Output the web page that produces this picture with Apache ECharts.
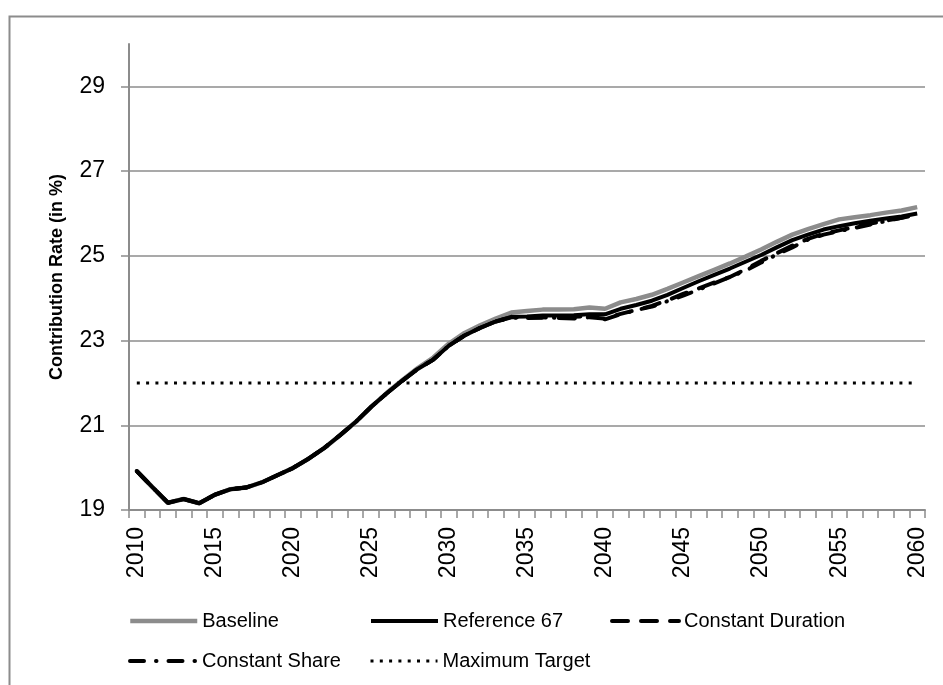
<!DOCTYPE html>
<html>
<head>
<meta charset="utf-8">
<script src="https://cdn.jsdelivr.net/npm/echarts@6/dist/echarts.min.js"></script>
<style>
html,body{margin:0;padding:0;background:#fff;}
#chart{width:943px;height:685px;}
</style>
</head>
<body>
<div id="chart"></div>
<script>
var years = ['2010','2011','2012','2013','2014','2015','2016','2017','2018','2019',
 '2020','2021','2022','2023','2024','2025','2026','2027','2028','2029',
 '2030','2031','2032','2033','2034','2035','2036','2037','2038','2039',
 '2040','2041','2042','2043','2044','2045','2046','2047','2048','2049',
 '2050','2051','2052','2053','2054','2055','2056','2057','2058','2059','2060'];

var baseline = [19.92,19.54,19.17,19.26,19.16,19.36,19.49,19.53,19.65,19.82,
 19.99,20.21,20.46,20.76,21.07,21.43,21.76,22.06,22.35,22.6,
 22.93,23.18,23.36,23.52,23.66,23.7,23.73,23.73,23.74,23.78,
 23.75,23.9,23.98,24.08,24.22,24.37,24.52,24.67,24.82,24.98,
 25.15,25.33,25.5,25.63,25.75,25.86,25.91,25.96,26.02,26.07,26.15];

var reference67 = [19.92,19.54,19.17,19.26,19.16,19.36,19.49,19.53,19.65,19.82,
 19.99,20.21,20.46,20.76,21.07,21.43,21.75,22.05,22.33,22.55,
 22.88,23.12,23.3,23.45,23.56,23.57,23.59,23.59,23.6,23.62,
 23.62,23.75,23.84,23.94,24.08,24.24,24.4,24.55,24.7,24.86,
 25.02,25.2,25.37,25.5,25.62,25.7,25.77,25.83,25.88,25.93,26.0];

var constantDuration = [19.92,19.54,19.17,19.26,19.16,19.36,19.49,19.53,19.65,19.82,
 19.99,20.21,20.46,20.76,21.07,21.43,21.75,22.05,22.33,22.55,
 22.88,23.12,23.3,23.45,23.55,23.55,23.55,23.53,23.52,23.55,
 23.52,23.63,23.72,23.82,23.95,24.1,24.23,24.37,24.5,24.68,
 24.88,25.06,25.24,25.4,25.52,25.6,25.68,25.76,25.83,25.9,25.97];

var constantShare = [19.92,19.54,19.17,19.26,19.16,19.36,19.49,19.53,19.65,19.82,
 19.99,20.21,20.46,20.76,21.07,21.43,21.75,22.05,22.33,22.55,
 22.88,23.12,23.3,23.45,23.54,23.53,23.54,23.54,23.56,23.58,
 23.5,23.62,23.72,23.8,23.93,24.06,24.2,24.35,24.5,24.65,
 24.84,25.03,25.2,25.38,25.5,25.58,25.66,25.74,25.82,25.9,25.96];

var maximumTarget = [22,22,22,22,22,22,22,22,22,22,
 22,22,22,22,22,22,22,22,22,22,
 22,22,22,22,22,22,22,22,22,22,
 22,22,22,22,22,22,22,22,22,22,
 22,22,22,22,22,22,22,22,22,22,22];

var yTicks = [19,21,23,25,27,29];

var FONT = 'Liberation Sans, Arial, sans-serif';
var GRAY = '#8c8c8c';

var chart = echarts.init(document.getElementById('chart'), null, {renderer:'canvas'});

function mkLegend(name, left, top, lw){
  return {
    data:[name], left:left, top:top, orient:'horizontal',
    itemWidth:67, itemHeight:14, padding:0,
    textStyle:{fontFamily:FONT, fontSize:20, color:'#000'},
    itemStyle:{color:'rgba(0,0,0,0)', borderColor:'rgba(0,0,0,0)', borderWidth:0, opacity:0},
    lineStyle:{width:lw},
    selectedMode:false
  };
}

var option = {
  animation:false,
  backgroundColor:'#fff',
  graphic:[{
    type:'rect', left:7, top:14,
    shape:{x:0,y:0,width:960,height:700},
    style:{fill:'none', stroke:GRAY, lineWidth:2},
    silent:true, z:-10
  }],
  grid:{left:129, top:44, right:18, bottom:175, containLabel:false},
  legend:[
    mkLegend('Baseline',128,611,4.5),
    mkLegend('Reference 67',369,611,4),
    mkLegend('Constant Duration',610,611,4),
    mkLegend('Constant Share',128,651,4),
    mkLegend('Maximum Target',369,651,3)
  ],
  xAxis:{
    type:'category', data:years, boundaryGap:true,
    axisLine:{lineStyle:{color:GRAY, width:2}},
    axisTick:{show:true, interval:0, length:8, lineStyle:{color:GRAY, width:1.5}},
    axisLabel:{interval:4, rotate:90, margin:17, fontFamily:FONT, fontSize:23, color:'#000'},
    splitLine:{show:false}
  },
  yAxis:{
    type:'value', min:19, max:30, interval:2,
    name:'Contribution Rate (in %)', nameLocation:'middle', nameGap:63, nameRotate:90,
    nameTextStyle:{fontFamily:FONT, fontSize:18, fontWeight:'bold', color:'#000'},
    axisLine:{show:true, lineStyle:{color:GRAY, width:2}},
    axisTick:{show:true, length:8, inside:false, lineStyle:{color:GRAY, width:1.5}},
    axisLabel:{margin:24, fontFamily:FONT, fontSize:23, color:'#000', showMaxLabel:false,
      formatter:function(v){ return yTicks.indexOf(v) >= 0 ? String(v) : ''; }},
    splitLine:{show:true, showMaxLine:false, lineStyle:{color:GRAY, width:1.5}}
  },
  series:[
    {name:'Baseline', type:'line', data:baseline, symbol:'none',
     lineStyle:{color:GRAY, width:4.5}, itemStyle:{color:GRAY}, z:2},
    {name:'Reference 67', type:'line', data:reference67, symbol:'none',
     lineStyle:{color:'#000', width:4}, itemStyle:{color:'#000'}, z:3},
    {name:'Constant Duration', type:'line', data:constantDuration, symbol:'none',
     lineStyle:{color:'#000', width:4, type:[16,13], cap:'round'}, itemStyle:{color:'#000'}, z:4},
    {name:'Constant Share', type:'line', data:constantShare, symbol:'none',
     lineStyle:{color:'#000', width:4, type:[14,12,0.5,12], cap:'round'}, itemStyle:{color:'#000'}, z:5},
    {name:'Maximum Target', type:'line', data:maximumTarget, symbol:'none',
     lineStyle:{color:'#000', width:3, type:[3,6.3], cap:'butt'}, itemStyle:{color:'#000'}, z:6}
  ]
};
chart.setOption(option);
</script>
</body>
</html>
